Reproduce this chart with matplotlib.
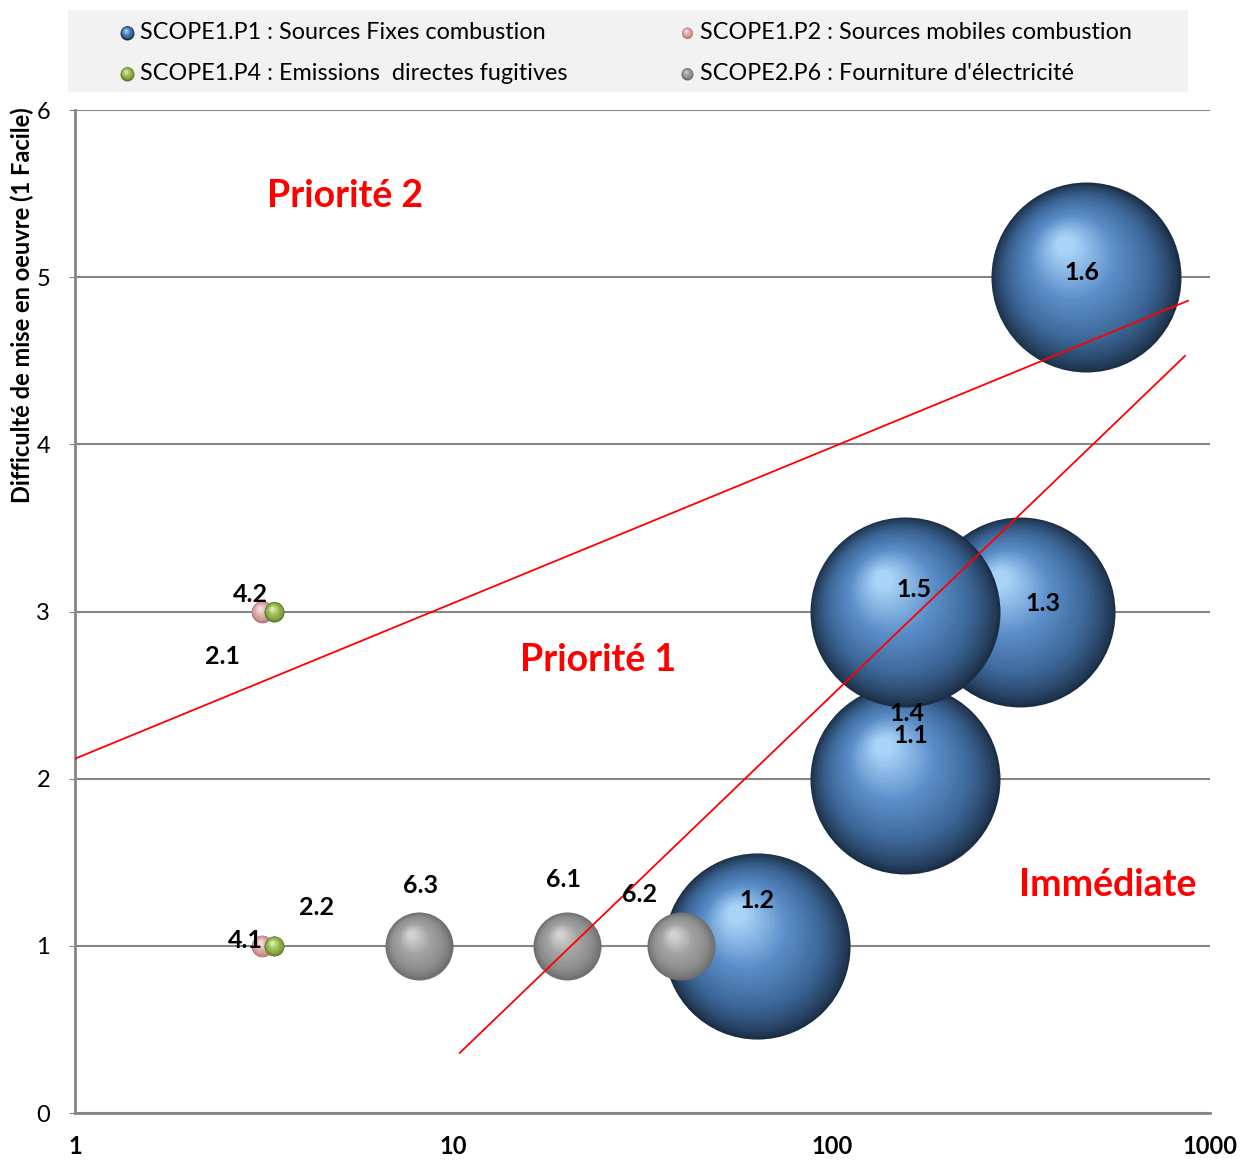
import numpy as np
import matplotlib
matplotlib.use('Agg')
import matplotlib.pyplot as plt
from matplotlib.transforms import offset_copy
from matplotlib.colors import to_rgb

plt.rcParams['font.family'] = ['Lato', 'DejaVu Sans']

# --- données ---
labels = ['1.6', '1.3', '1.5', '1.1', '1.4', '1.2', '6.3', '6.1', '6.2', '2.1', '2.2', '4.2', '4.1']
gain = [470, 315, 156, 156, 156, 63.5, 8.1, 20, 40, 3.12, 3.12, 3.36, 3.36]
difficulte = [5, 3, 3, 2, 2, 1, 1, 1, 1, 3, 1, 3, 1]
taille = [100, 100, 100, 100, 0, 96, 12.8, 12.8, 12.8, 1.3, 1.3, 1.1, 1.1]
poste = ['P1', 'P1', 'P1', 'P1', 'P1', 'P1', 'P6', 'P6', 'P6', 'P2', 'P2', 'P4', 'P4']

# positions des étiquettes
lab_x = [459, 362, 165, 162, 158, 63.5, 8.2, 19.5, 31, 2.46, 4.36, 2.9, 2.82]
lab_y = [5.03, 3.05, 3.13, 2.26, 2.39, 1.27, 1.36, 1.40, 1.31, 2.73, 1.23, 3.10, 1.03]

droite1_x = [1, 875]
droite1_y = [2.12, 4.86]
droite2_x = [10.4, 859]
droite2_y = [0.36, 4.53]

zones = ['Priorité 2', 'Priorité 1', 'Immédiate']
zones_x = [5.17, 24.1, 538]
zones_y = [5.485, 2.71, 1.364]

legende = {
    'P1': 'SCOPE1.P1 : Sources Fixes combustion',
    'P2': 'SCOPE1.P2 : Sources mobiles combustion',
    'P4': 'SCOPE1.P4 : Emissions  directes fugitives',
    'P6': "SCOPE2.P6 : Fourniture d'électricité",
}
ordre_leg = ['P1', 'P2', 'P4', 'P6']

# couleurs des sphères (bord sombre -> reflet)
couleurs = {
    'P1': ['#1b2e45', '#3b6595', '#5a8dc8', '#a9d4f8'],
    'P2': ['#b07876', '#d39a98', '#e6b9b8', '#f6e0e0'],
    'P4': ['#5d7a24', '#86a843', '#a6c462', '#dcefb0'],
    'P6': ['#6b6b6b', '#8e8e8e', '#a3a3a3', '#d2d2d2'],
}
DPI = 100


def degrade(stops, t):
    pos = np.linspace(0, 1, len(stops))
    rgb = np.array([to_rgb(c) for c in stops])
    return tuple(np.interp(t, pos, rgb[:, k]) for k in range(3))


def sphere(ax, x, y, r_px, stops, z, n=45):
    for i in range(n):
        t = i / (n - 1)
        r = r_px * (1 - 0.9 * t)
        d = r_px - r
        tr = offset_copy(ax.transData, fig=ax.figure, x=-0.25 * d, y=0.38 * d, units='dots')
        ax.scatter([x], [y], s=(2 * r * 72 / DPI) ** 2, color=degrade(stops, t ** 0.8),
                   transform=tr, zorder=z, linewidths=0)


fig = plt.figure(figsize=(12.4, 11.6), dpi=DPI)
ax = fig.add_axes([0.0605, 0.0405, 0.9153, 0.8645])
ax.set_xscale('log')
ax.set_xlim(1, 1000)
ax.set_ylim(0, 6)

# bulles : bleues d'abord, puis grises, puis petites
z_ordre = {'1.6': 3, '1.3': 3, '1.1': 3, '1.4': 3, '1.2': 3, '1.5': 4}
for i, lab in enumerate(labels):
    if taille[i] <= 0:
        continue
    r_px = 95 * np.sqrt(taille[i] / 100)
    z = z_ordre.get(lab, 5)
    sphere(ax, gain[i], difficulte[i], r_px, couleurs[poste[i]], z)

ax.plot(droite1_x, droite1_y, color='red', lw=1.3, zorder=8)
ax.plot(droite2_x, droite2_y, color='red', lw=1.3, zorder=8)

for i, lab in enumerate(labels):
    ax.text(lab_x[i], lab_y[i], lab, ha='center', va='center', fontsize=18,
            fontweight='bold', color='black', zorder=10)

for txt, zx, zy in zip(zones, zones_x, zones_y):
    ax.text(zx, zy, txt, ha='center', va='center', fontsize=27, fontweight='bold',
            color='#ff0000', zorder=10)

# axes
ax.set_yticks(range(0, 7))
ax.grid(axis='y', color='#868686', lw=1.5, zorder=0)
ax.set_axisbelow(True)
for s in ['top', 'right']:
    ax.spines[s].set_visible(False)
for s in ['left', 'bottom']:
    ax.spines[s].set_color('#868686')
    ax.spines[s].set_linewidth(2)
ax.set_xticks([1, 10, 100, 1000])
ax.set_xticklabels(['1', '10', '100', '1000'], fontweight='bold', fontsize=17)
ax.xaxis.set_minor_locator(matplotlib.ticker.NullLocator())
ax.tick_params(axis='x', length=0, pad=16)
ax.tick_params(axis='y', length=4, color='#868686', labelsize=17, pad=14)
fig.text(0.018, 0.737, 'Difficulté de mise en oeuvre (1 Facile)', rotation=90,
         ha='center', va='center', fontsize=17, fontweight='bold')

# légende (2 colonnes, remplie ligne par ligne)
lax = fig.add_axes([68 / 1240, 1 - 92 / 1160, 1120 / 1240, 82 / 1160])
lax.set_xlim(0, 1)
lax.set_ylim(0, 1)
lax.set_facecolor('#f2f2f2')
lax.set_xticks([])
lax.set_yticks([])
for s in lax.spines.values():
    s.set_visible(False)
r_leg = {'P1': 7, 'P2': 5.5, 'P4': 7, 'P6': 6}
for k, p in enumerate(ordre_leg):
    cx = 0.0527 + 0.5 * (k % 2)
    cy = 0.725 - 0.5 * (k // 2)
    sphere(lax, cx, cy, r_leg[p], couleurs[p], 3, n=12)
    lax.text(cx + 0.0116, cy, legende[p], ha='left', va='center', fontsize=16.8)

fig.savefig('out.png', dpi=DPI)
